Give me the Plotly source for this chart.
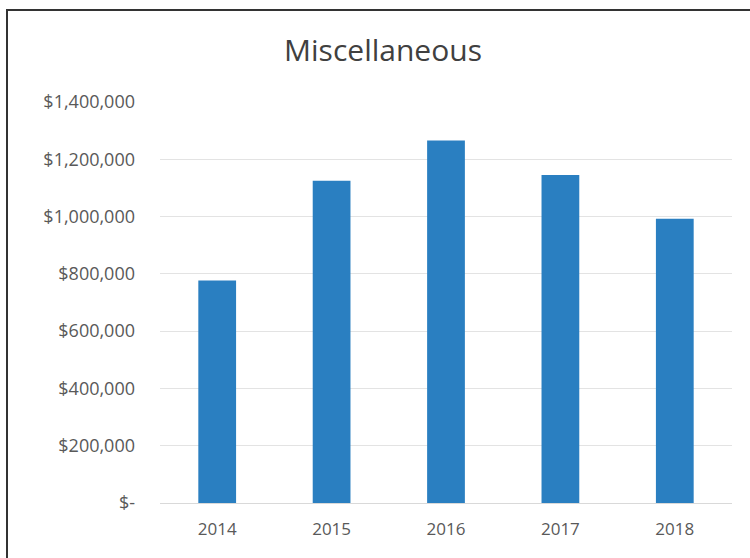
import plotly.graph_objects as go

years = ["2014", "2015", "2016", "2017", "2018"]
values = [777000, 1125000, 1266000, 1145000, 992000]
tick_vals = [0, 200000, 400000, 600000, 800000, 1000000, 1200000, 1400000]
tick_text = ["$-", "$200,000", "$400,000", "$600,000", "$800,000",
             "$1,000,000", "$1,200,000", "$1,400,000"]

fig = go.Figure(go.Bar(x=years, y=values, marker_color="#2a7fc1",
                       marker_line_width=0))

W, H = 750, 558
L, R, T, B = 160, 18, 102, 55
pw, ph = W - L - R, H - T - B

fig.update_layout(
    width=W, height=H,
    margin=dict(l=L, r=R, t=T, b=B),
    paper_bgcolor="white", plot_bgcolor="white",
    bargap=0.67,
    showlegend=False,
    font=dict(family="Open Sans, Lato, sans-serif", color="#595959", size=18),
    title=dict(text="Miscellaneous", x=383 / W, xanchor="center",
               y=1 - 50 / H, yanchor="middle",
               font=dict(size=30, color="#404040")),
    xaxis=dict(showgrid=False, showline=False, ticks="",
               ticklabelstandoff=14,
               tickfont=dict(size=17, color="#595959")),
    yaxis=dict(range=[0, 1400000], tickvals=tick_vals, ticktext=tick_text,
               showgrid=True, gridcolor="#e3e3e3", gridwidth=1,
               zeroline=True, zerolinecolor="#d9d9d9", zerolinewidth=1,
               ticks="", ticklabelstandoff=24,
               tickfont=dict(size=18, color="#595959")),
    shapes=[dict(type="rect", xref="paper", yref="paper",
                 x0=(7 - L) / pw, x1=(760 - L) / pw,
                 y0=(H - B - 570) / ph, y1=(H - B - 10) / ph,
                 line=dict(color="#333333", width=2), fillcolor="rgba(0,0,0,0)",
                 layer="above")],
)

fig.write_html("out.html")
